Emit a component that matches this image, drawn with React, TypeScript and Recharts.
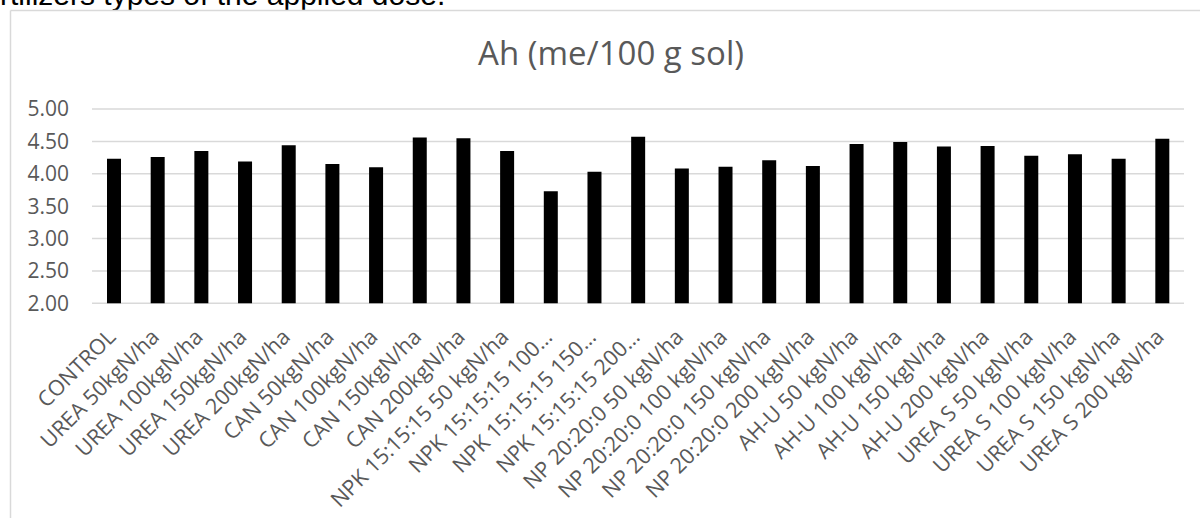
import { Bar, BarChart, CartesianGrid, XAxis, YAxis } from 'recharts'

const treatments = [
  'CONTROL',
  'UREA 50kgN/ha',
  'UREA 100kgN/ha',
  'UREA 150kgN/ha',
  'UREA 200kgN/ha',
  'CAN 50kgN/ha',
  'CAN 100kgN/ha',
  'CAN 150kgN/ha',
  'CAN 200kgN/ha',
  'NPK 15:15:15 50 kgN/ha',
  'NPK 15:15:15 100 kgN/ha',
  'NPK 15:15:15 150 kgN/ha',
  'NPK 15:15:15 200 kgN/ha',
  'NP 20:20:0 50 kgN/ha',
  'NP 20:20:0 100 kgN/ha',
  'NP 20:20:0 150 kgN/ha',
  'NP 20:20:0 200 kgN/ha',
  'AH-U 50 kgN/ha',
  'AH-U 100 kgN/ha',
  'AH-U 150 kgN/ha',
  'AH-U 200 kgN/ha',
  'UREA S 50 kgN/ha',
  'UREA S 100 kgN/ha',
  'UREA S 150 kgN/ha',
  'UREA S 200 kgN/ha',
]

const ahValues = [
  4.23, 4.26, 4.35, 4.19, 4.44, 4.15, 4.1, 4.56, 4.55, 4.35, 3.73, 4.03, 4.57,
  4.08, 4.11, 4.21, 4.12, 4.46, 4.49, 4.42, 4.43, 4.28, 4.3, 4.23, 4.54,
]

const yTicks = [2, 2.5, 3, 3.5, 4, 4.5, 5]

const chartTitle = 'Ah (me/100 g sol)'
const pageText = 'rtilizers types of the applied dose.'

const data = treatments.map((name, i) => ({ name, ah: ahValues[i] }))

const GREY = '#595959'
const FONT = '"Open Sans", sans-serif'

// Excel cuts long category labels with an ellipsis
function shorten(label: string): string {
  return label.length > 22 ? label.slice(0, 16) + '…' : label
}

function CategoryTick(props: any) {
  const { x, y, payload } = props
  return (
    <g transform={`translate(${x + 3},${y + 35})`}>
      <text
        transform="rotate(-45)"
        textAnchor="end"
        fill={GREY}
        fontSize={21.5}
        fontFamily={FONT}
      >
        {shorten(payload.value)}
      </text>
    </g>
  )
}

export default function App() {
  return (
    <div
      style={{
        position: 'absolute',
        left: 0,
        top: 0,
        width: 1200,
        height: 518,
        overflow: 'hidden',
        background: '#fff',
      }}
    >
      <svg
        width={1200}
        height={518}
        style={{ position: 'absolute', left: 0, top: 0 }}
      >
        <text
          x={0}
          y={5}
          fontSize={30}
          fontFamily='"Liberation Sans", Arial, sans-serif'
          fill="#000"
        >
          {pageText}
        </text>
        <line x1={10.5} y1={10.5} x2={1200} y2={10.5} stroke="#d9d9d9" strokeWidth={1.5} />
        <line x1={10.5} y1={10.5} x2={10.5} y2={518} stroke="#d9d9d9" strokeWidth={1.5} />
        <text
          x={611}
          y={65}
          textAnchor="middle"
          fontSize={33}
          fontFamily={FONT}
          fill={GREY}
        >
          {chartTitle}
        </text>
      </svg>
      <div style={{ position: 'absolute', left: 10, top: 10 }}>
        <BarChart
          width={1190}
          height={508}
          data={data}
          margin={{ top: 99, right: 16, left: 0, bottom: 15 }}
        >
          <CartesianGrid
            vertical={false}
            stroke="#d9d9d9"
            strokeWidth={1.5}
          />
          <XAxis
            dataKey="name"
            interval={0}
            height={199.7}
            axisLine={false}
            tickLine={false}
            tickSize={0}
            tickMargin={0}
            tick={<CategoryTick />}
          />
          <YAxis
            domain={[2, 5]}
            ticks={yTicks}
            width={82}
            axisLine={false}
            tickLine={false}
            tickSize={0}
            tickMargin={23}
            tickFormatter={(v: number) => v.toFixed(2)}
            tick={{ fill: GREY, fontSize: 21, fontFamily: FONT }}
          />
          <Bar
            dataKey="ah"
            fill="#000"
            barSize={14}
            isAnimationActive={false}
          />
        </BarChart>
      </div>
    </div>
  )
}
